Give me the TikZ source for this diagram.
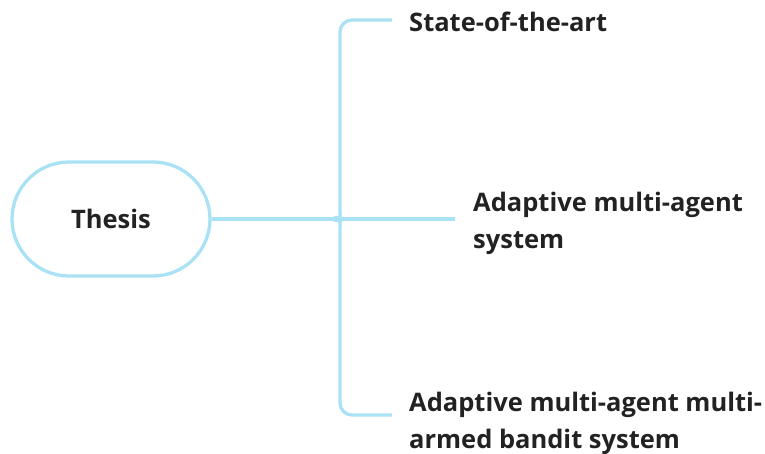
\documentclass[tikz,border=0pt]{standalone}
\usepackage{fontspec}
\setmainfont{Open Sans}
\usetikzlibrary{shapes.misc}
\definecolor{linec}{RGB}{170,226,245}
\definecolor{txt}{RGB}{34,34,34}
\tikzset{
  conn/.style={draw=linec, line width=3.3pt},
  label/.style={font=\fontsize{25.5}{37}\selectfont\bfseries, text=txt, align=left, inner sep=0pt},
}
\begin{document}
\begin{tikzpicture}[x=1pt,y=-1pt]
\useasboundingbox (0,0) rectangle (765,453);
\node[rounded rectangle, draw=linec, line width=3.3pt, minimum width=198pt, minimum height=114pt, inner sep=0pt,
      font=\fontsize{25.5}{30}\selectfont\bfseries, text=txt] (thesis) at (111,219) {Thesis};
\coordinate (cusp) at (328,219);
\coordinate (top) at (392,20);
\coordinate (mid) at (455,219);
\coordinate (bot) at (392,415);
\node[label, anchor=west] (n1) at (409,22) {State-of-the-art};
\node[label, anchor=west] (n2) at (473,223) {Adaptive multi-agent\\system};
\node[label, anchor=west] (n3) at (409,423) {Adaptive multi-agent multi-\\armed bandit system};
\draw[conn] (thesis.east) -- (cusp);
\draw[conn, rounded corners=12pt] (cusp) .. controls (336,219) and (340,215) .. (340,207) -- (340,20) -- (top);
\draw[conn, rounded corners=12pt] (cusp) .. controls (336,219) and (340,223) .. (340,231) -- (340,415) -- (bot);
\draw[conn] (cusp) -- (mid);
\end{tikzpicture}
\end{document}
